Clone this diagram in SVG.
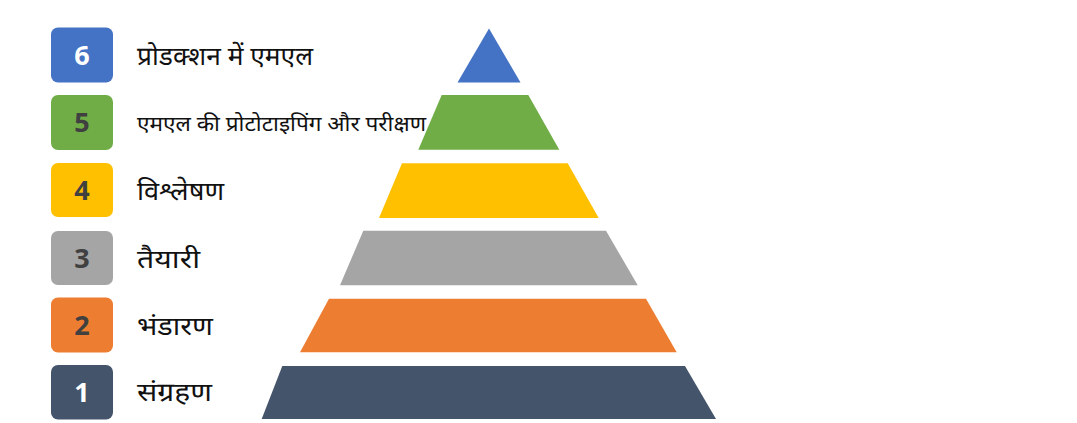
<svg xmlns="http://www.w3.org/2000/svg" width="1077" height="423" viewBox="0 0 1077 423">
<style>
.num{font-family:"Open Sans","Liberation Sans",sans-serif;font-weight:bold;font-size:27px;text-anchor:middle}
.lbl{font-family:"Noto Sans Devanagari","Noto Sans","Lohit Devanagari",sans-serif;font-size:26px;font-weight:normal;fill:#111}
.dark{fill:#404040}
.light{fill:#ffffff}
</style>
<rect width="1077" height="423" fill="#ffffff"/>
<g id="pyramid">
<polygon id="layer6" points="489,28.5 520.5,82.5 457.5,82.5" fill="#4472C4"/>
<polygon id="layer5" points="441.7,95 528.3,95 559.3,149.7 418.3,149.7" fill="#70AD47"/>
<polygon id="layer4" points="402,163.3 567.7,163.3 598.7,218 379,218" fill="#FFC000"/>
<polygon id="layer3" points="363.3,230.7 606,230.7 637.7,285.3 340,285.3" fill="#A5A5A5"/>
<polygon id="layer2" points="329,298.7 646,298.7 676.7,352.3 300,352.3" fill="#ED7D31"/>
<polygon id="layer1" points="282.3,366 685,366 716,419 261.7,419" fill="#44546A"/>
</g>
<g id="item6"><rect x="51" y="27.5" width="62" height="55" rx="7" fill="#4472C4"/><text class="num light" x="82" y="65">6</text><text class="lbl" x="137" y="65" textLength="176" lengthAdjust="spacingAndGlyphs">प्रोडक्शन में एमएल</text></g>
<g id="item5"><rect x="51" y="95" width="62" height="55" rx="7" fill="#70AD47"/><text class="num dark" x="82" y="132">5</text><text class="lbl" x="137" y="131" style="font-size:21px" textLength="289" lengthAdjust="spacingAndGlyphs">एमएल की प्रोटोटाइपिंग और परीक्षण</text></g>
<g id="item4"><rect x="51" y="163" width="62" height="54" rx="7" fill="#FFC000"/><text class="num dark" x="82" y="200">4</text><text class="lbl" x="137" y="200" textLength="87" lengthAdjust="spacingAndGlyphs">विश्लेषण</text></g>
<g id="item3"><rect x="51" y="231" width="62" height="54" rx="7" fill="#A5A5A5"/><text class="num dark" x="82" y="268">3</text><text class="lbl" x="137" y="268" textLength="63" lengthAdjust="spacingAndGlyphs">तैयारी</text></g>
<g id="item2"><rect x="51" y="297.5" width="62" height="55" rx="7" fill="#ED7D31"/><text class="num dark" x="82" y="335">2</text><text class="lbl" x="137" y="335" textLength="76" lengthAdjust="spacingAndGlyphs">भंडारण</text></g>
<g id="item1"><rect x="51" y="365" width="62" height="54.5" rx="7" fill="#44546A"/><text class="num light" x="82" y="402">1</text><text class="lbl" x="137" y="401" textLength="75" lengthAdjust="spacingAndGlyphs">संग्रहण</text></g>
</svg>
